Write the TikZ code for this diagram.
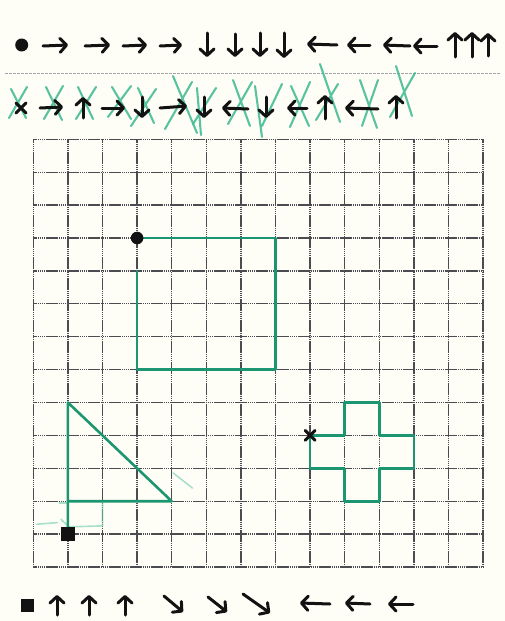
\documentclass[tikz,border=0pt]{standalone}
\usetikzlibrary{arrows.meta}
\definecolor{paper}{RGB}{255,254,246}
\definecolor{pen}{RGB}{28,150,112}
\definecolor{penlight}{RGB}{110,205,172}
\definecolor{tickc}{RGB}{60,185,145}
\definecolor{gridc}{RGB}{75,75,82}
\definecolor{ink}{RGB}{18,18,18}
\tikzset{
  inkline/.style={draw=ink, line width=3pt, line cap=round, line join=round},
  inkarrow/.style={inkline, -{Straight Barb[length=6.5pt,width=14pt,round]}},
  gridline/.style={draw=gridc, line width=1.3pt, dash pattern=on 1.6pt off 0.5pt},
  greenline/.style={draw=pen, line width=2.6pt, line cap=round, line join=round},
  faint/.style={draw=penlight, line width=1.6pt, line cap=round, opacity=0.6},
  tick/.style={draw=tickc, line width=2.1pt, line cap=round, opacity=0.85},
}
\begin{document}
\begin{tikzpicture}[x=1pt,y=-1pt]
\fill[paper] (0,0) rectangle (505,621);
\path[use as bounding box] (0,0) rectangle (505,621);

% ---------- first instruction line ----------
\fill[ink] (21.7,45) circle (6.5);
\draw[inkarrow] (43,46) -- (68,45);
\draw[inkarrow] (85,46) -- (110,45);
\draw[inkarrow] (123,46) -- (147,45);
\draw[inkarrow] (160,46) -- (182,45);
\draw[inkarrow] (207,33) -- (207,57);
\draw[inkarrow] (235,34) -- (235,57);
\draw[inkarrow] (260,33) -- (260,57);
\draw[inkarrow] (284,33) -- (284,58);
\draw[inkarrow] (337,45) -- (307,44);
\draw[inkarrow] (370,45) -- (347,45);
\draw[inkarrow] (410,46) -- (383,45);
\draw[inkarrow] (437,46) -- (413,46);
\draw[inkarrow] (455,57) -- (455,32);
\draw[inkarrow] (472,57) -- (472,32);
\draw[inkarrow] (488,56) -- (488,33);

% separator
\draw[gridc!50, line width=0.8pt, dash pattern=on 3pt off 1pt] (5,73) -- (500,73);

% ---------- second instruction line (green check crosses first) ----------
\draw[tick] (9,118) -- (27,87)  (11,89) -- (26,118);
\draw[tick] (44,119) -- (63,86)  (46,87) -- (62,120);
\draw[tick] (76,119) -- (96,87)  (78,87) -- (93,119);
\draw[tick] (108,117) -- (131,86)  (112,87) -- (131,119);
\draw[tick] (131,126) -- (156,89)  (138,88) -- (154,123);
\draw[tick] (165,129) -- (192,82)  (173,76) -- (197,133);
\draw[tick] (193,124) -- (216,88)  (197,88) -- (201,135);
\draw[tick] (228,124) -- (252,82)  (233,80) -- (250,126);
\draw[tick] (262,126) -- (282,84)  (255,86) -- (262,137);
\draw[tick] (290,127) -- (310,82)  (291,86) -- (309,126);
\draw[tick] (316,120) -- (338,84)  (320,64) -- (340,122);
\draw[tick] (362,126) -- (378,80)  (360,80) -- (377,128);
\draw[tick] (390,117) -- (415,73)  (396,66) -- (412,116);

\draw[inkline] (16,103) -- (26,113) (26,103) -- (16,113);
\draw[inkarrow] (40,108) -- (63,107);
\draw[inkarrow] (83,118) -- (83,97);
\draw[inkarrow] (102,108) -- (125,108);
\draw[inkarrow] (142,97) -- (142,118);
\draw[inkarrow] (160,108) -- (187,106);
\draw[inkarrow] (204,97) -- (204,118);
\draw[inkarrow] (248,109) -- (222,108);
\draw[inkarrow] (266,97) -- (266,118);
\draw[inkarrow] (307,108) -- (287,108);
\draw[inkarrow] (325,119) -- (325,95);
\draw[inkarrow] (378,109) -- (345,108);
\draw[inkarrow] (396,118) -- (396,95);

% ---------- grid ----------
\begin{scope}[shift={(33.3pt,-139.3pt)}, x=34.6pt, y=-32.9pt]
  \foreach \i in {0,...,13} \draw[gridline] (\i,0) -- (\i,13);
  \foreach \j in {0,...,13} \draw[gridline] (0,\j) -- (13,\j);
  \foreach \i in {0,...,13}{\foreach \j in {0,...,13}{\coordinate (g\i-\j) at (\i,\j);}}

  % faint pencil traces
  \draw[faint] (1,11.78) -- (2,11.75) -- (2,11);
  \draw[faint] (4.04,10.14) -- (4.6,10.6);
  \draw[faint] (0.75,11.05) -- (1,11.05);
  \draw[faint] (0.8,11.55) -- (1.05,11.8);
  \draw[faint] (0.1,11.7) -- (0.7,11.65);

  % rectangle path
  \draw[greenline] (g3-3) -- (g7-3) -- (g7-7) -- (g3-7) -- (g3-4);
  % cross path
  \draw[greenline] (g8-9) -- (g9-9) -- (g9-8) -- (g10-8) -- (g10-9) -- (g11-9)
     -- (g11-10) -- (g10-10) -- (g10-11) -- (g9-11) -- (g9-10) -- (g8-10) -- (g8-9);
  % triangle path
  \draw[greenline] (g1-12) -- (g1-8) -- (g4-11) -- (g1-11);

  % markers
  \fill[ink] (g3-3) circle (6.3pt);
  \draw[inkline] (g8-9) +(-5pt,-5pt) -- +(5pt,5pt) +(-5pt,5pt) -- +(5pt,-5pt);
  \fill[ink] (g1-12) +(-7pt,-7pt) rectangle +(7pt,7pt);
\end{scope}

% ---------- bottom instruction line ----------
\fill[ink] (21,599) rectangle (34,612);
\draw[inkarrow] (57,615) -- (57,595);
\draw[inkarrow] (89,615) -- (89,595);
\draw[inkarrow] (125,615) -- (125,595);
\draw[inkarrow] (164,596) -- (183,612);
\draw[inkarrow] (208,597) -- (227,612);
\draw[inkarrow] (243,594) -- (270,613);
\draw[inkarrow] (330,604) -- (300,603);
\draw[inkarrow] (370,604) -- (345,603);
\draw[inkarrow] (413,604) -- (388,604);
\end{tikzpicture}
\end{document}
